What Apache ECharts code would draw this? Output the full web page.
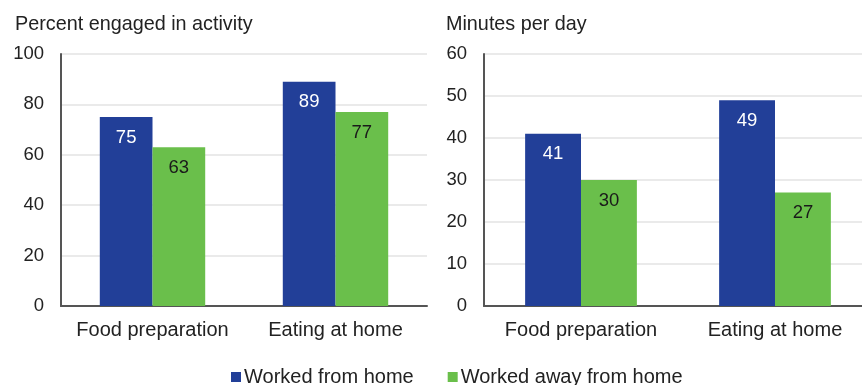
<!DOCTYPE html>
<html>
<head>
    <meta charset="utf-8">
    <title>ECharts</title>
    <script src="https://cdn.jsdelivr.net/npm/echarts@6/dist/echarts.min.js"></script>
    <style>
        body { margin: 0; background: #fff; }
    </style>
</head>
<body>
    <div id="main" style="width: 862px;height:385px;"></div>
    <script type="text/javascript">
        // data
        var categories = ['Food preparation', 'Eating at home'];
        var seriesNames = ['Worked from home', 'Worked away from home'];
        var pctFromHome = [75, 89];
        var pctAwayHome = [63, 77];
        var minFromHome = [41, 49];
        var minAwayHome = [30, 27];
        var panelTitles = ['Percent engaged in activity', 'Minutes per day'];

        var blue = '#223f98';
        var green = '#6abf4b';
        var font = 'Liberation Sans, Arial, sans-serif';

        var myChart = echarts.init(document.getElementById('main'));

        function yAxis(idx, max, step) {
            return {
                type: 'value', gridIndex: idx, min: 0, max: max, interval: step,
                axisLine: { show: true, lineStyle: { color: '#555', width: 2 } },
                axisTick: { show: false },
                axisLabel: { color: '#222', fontSize: 18.5, fontFamily: font, margin: 17 },
                splitLine: { lineStyle: { color: '#e3e3e3', width: 1.5 } }
            };
        }
        function xAxis(idx) {
            return {
                type: 'category', gridIndex: idx, data: categories,
                axisLine: { lineStyle: { color: '#555', width: 2 } },
                axisTick: { show: false },
                axisLabel: { color: '#222', fontSize: 20, fontFamily: font, margin: 14, interval: 0 }
            };
        }
        function bars(name, data, idx, color, labelColor) {
            return {
                name: name, type: 'bar', xAxisIndex: idx, yAxisIndex: idx,
                data: data, barWidth: '28.8%', barGap: '0%',
                itemStyle: { color: color },
                label: {
                    show: true, position: 'insideTop', distance: 11,
                    color: labelColor, fontSize: 18.5, fontFamily: font
                }
            };
        }

        var option = {
            animation: false,
            textStyle: { fontFamily: font },
            title: [
                { text: panelTitles[0], left: 10, top: 10,
                  textStyle: { fontSize: 19.8, fontWeight: 'normal', color: '#222', fontFamily: font } },
                { text: panelTitles[1], left: 441, top: 10,
                  textStyle: { fontSize: 19.8, fontWeight: 'normal', color: '#222', fontFamily: font } }
            ],
            legend: {
                data: seriesNames,
                left: 226, top: 362,
                icon: 'rect', itemWidth: 10, itemHeight: 10, itemGap: 34,
                textStyle: { fontSize: 20, color: '#222', fontFamily: font, padding: [0, 0, 0, -2] }
            },
            grid: [
                { left: 61, top: 54, width: 366, height: 252, outerBoundsMode: 'none' },
                { left: 484, top: 54, width: 388, height: 252, outerBoundsMode: 'none' }
            ],
            xAxis: [xAxis(0), xAxis(1)],
            yAxis: [yAxis(0, 100, 20), yAxis(1, 60, 10)],
            series: [
                bars(seriesNames[0], pctFromHome, 0, blue, '#fff'),
                bars(seriesNames[1], pctAwayHome, 0, green, '#1a1a1a'),
                bars(seriesNames[0], minFromHome, 1, blue, '#fff'),
                bars(seriesNames[1], minAwayHome, 1, green, '#1a1a1a')
            ]
        };

        myChart.setOption(option);
    </script>
</body>
</html>
